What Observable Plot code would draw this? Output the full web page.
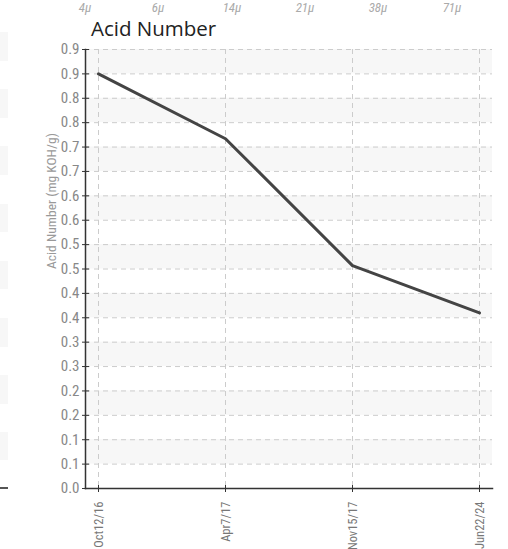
<!DOCTYPE html>
<html>
<head>
<meta charset="utf-8">
<script src="https://cdn.jsdelivr.net/npm/d3@7"></script>
<script src="https://cdn.jsdelivr.net/npm/@observablehq/plot@0.6"></script>
<style>
  html, body { margin: 0; padding: 0; background: #fff; }
  body { width: 508px; height: 549px; position: relative; overflow: hidden; }
  #header { position: relative; height: 42px; }
  .mu { position: absolute; top: 2px; font-family: "Liberation Sans Narrow", "Roboto Condensed", Roboto, sans-serif; font-style: italic; font-weight: normal; font-size: 13px; color: #aaa; transform: translateX(-50%); line-height: 12px; }
  #title { position: absolute; left: 91px; top: 17px; font-family: "Open Sans", "Noto Sans", sans-serif; font-size: 20.5px; color: #222; line-height: 22px; }
  #leftstrip { position: absolute; left: 0; top: 32px; width: 8px; height: 428px;
    background: repeating-linear-gradient(to bottom, #f7f7f7 0px, #f7f7f7 28.6px, #fff 28.6px, #fff 57.2px); }
  #leftaxis { position: absolute; left: 0; top: 487px; width: 8px; height: 2px; background: #555; }
  #chart { position: absolute; left: 0; top: 39px; }
</style>
</head>
<body>
<div id="header"></div>
<div id="leftstrip"></div>
<div id="leftaxis"></div>
<div id="chart"></div>
<script>
const muLabels = ["4μ", "6μ", "14μ", "21μ", "38μ", "71μ"];
const muCenters = [85, 158, 232, 305, 378, 452];
const dates = ["Oct12/16", "Apr7/17", "Nov15/17", "Jun22/24"];
const acidValues = [0.85, 0.717, 0.457, 0.36];
const yTicks = d3.range(0, 0.9001, 0.05);
const bandStarts = d3.range(0.05, 0.9, 0.1);

const header = document.getElementById("header");
muLabels.forEach((t, i) => {
  const s = document.createElement("div");
  s.className = "mu";
  s.style.left = muCenters[i] + "px";
  s.textContent = t;
  header.appendChild(s);
});
const title = document.createElement("div");
title.id = "title";
title.textContent = "Acid Number";
header.appendChild(title);

const data = dates.map((d, i) => ({date: d, value: acidValues[i]}));
const bands = bandStarts.map(b => ({y1: b, y2: b + 0.05}));
const condensed = "'Liberation Sans Narrow', 'Roboto Condensed', Roboto, sans-serif";

const chart = Plot.plot({
  width: 508,
  height: 510,
  marginTop: 10,
  marginBottom: 61,
  marginLeft: 85,
  marginRight: 16,
  style: {fontFamily: condensed, fontSize: "14px", color: "#888", background: "transparent"},
  x: {type: "point", domain: dates, padding: 0.1, label: null},
  y: {domain: [0, 0.9], label: null},
  marks: [
    Plot.rect(bands, {y1: "y1", y2: "y2", fill: "#f7f7f7"}),
    Plot.gridY(yTicks, {stroke: "#ccc", strokeOpacity: 1, strokeDasharray: "5,4"}),
    Plot.gridX(dates, {stroke: "#ccc", strokeOpacity: 1, strokeDasharray: "5,4"}),
    Plot.line(data, {x: "date", y: "value", stroke: "#444", strokeWidth: 3}),
    Plot.axisY(yTicks, {tickFormat: d3.format(".1f"), tickSize: 7, dx: 4, tickPadding: 3, stroke: "#333", fill: "#888", fontSize: 15, label: null}),
    Plot.axisX(dates, {tickSize: 7, dy: -3, tickRotate: -90, tickPadding: 9, stroke: "#333", fill: "#777", fontSize: 12.5, label: null}),
    Plot.frame({anchor: "left", stroke: "#333", strokeWidth: 1.5}),
    Plot.frame({anchor: "bottom", stroke: "#333", strokeWidth: 1.5}),
    Plot.text(["Acid Number (mg KOH/g)"], {frameAnchor: "left", rotate: -90, dx: -34, fill: "#999", fontSize: 13.5})
  ]
});
document.getElementById("chart").appendChild(chart);
</script>
</body>
</html>
